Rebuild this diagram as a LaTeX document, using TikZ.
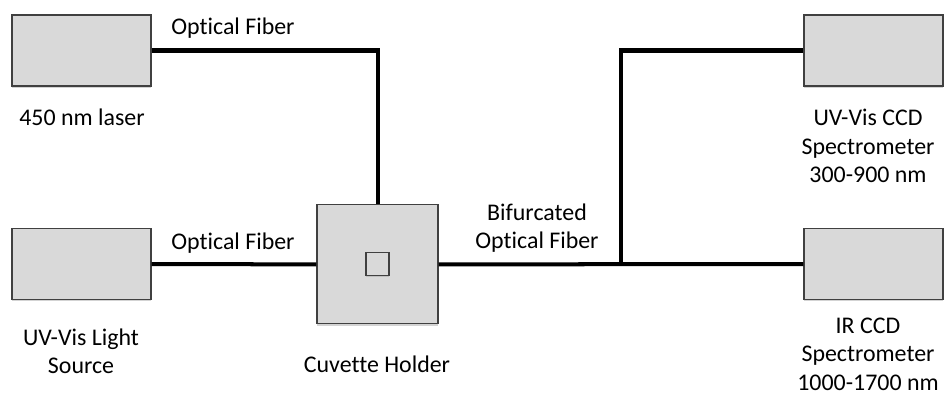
\documentclass[tikz,border=0pt]{standalone}
\usepackage{fontspec}
\setmainfont{Carlito}[Ligatures=NoCommon]
\usepackage{tikz}
\usetikzlibrary{positioning,shadows}
\definecolor{boxfill}{HTML}{D9D9D9}
\definecolor{boxline}{HTML}{404040}

\begin{document}
\begin{tikzpicture}[
    unit/.style={draw=boxline,fill=boxfill,line width=0.8pt,minimum width=3.475cm,minimum height=1.775cm,
      drop shadow={shadow xshift=0.3pt,shadow yshift=-1.2pt,opacity=0.35}},
    fiber/.style={line width=2.85pt},
    lbl/.style={font=\fontsize{17}{20.3}\selectfont,align=center,inner sep=0pt}]
  \useasboundingbox (0,0) rectangle (23.65,9.8);
  % sources
  \node[unit] (laser) at (2.0375,8.5375) {};
  \node[unit] (light) at (2.0375,3.2) {};
  % sample
  \node[unit,minimum width=3.025cm,minimum height=2.975cm] (cuv) at (9.4375,3.19) {};
  \node[draw=boxline,fill=boxfill,line width=0.8pt,minimum size=0.575cm,inner sep=0pt,
    drop shadow={shadow xshift=0.3pt,shadow yshift=-1pt,opacity=0.3}] (cell) at (cuv.center) {};
  % detectors
  \node[unit] (uv) at (21.8375,8.5375) {};
  \node[unit] (ir) at (21.8375,3.2) {};
  \coordinate (split) at (15.525,3.2);
  % fibers
  \draw[fiber] (laser.east) -| (cuv.north);
  \draw[fiber] (light.east) -- (cuv.west);
  \draw[fiber] (cuv.east) -- (ir.west);
  \draw[fiber] (split) |- (uv.west);
  % labels
  \node[lbl] (laserlbl) at (2.05,6.875) {450 nm laser};
  \node[lbl] (lightlbl) at (2.025,1.0125) {UV-Vis Light\\Source};
  \node[lbl] (cuvlbl) at (9.425,0.7) {Cuvette Holder};
  \node[lbl] (uvlbl) at (21.7,6.15) {UV-Vis CCD\\Spectrometer\\300-900 nm};
  \node[lbl] (irlbl) at (21.7,0.95) {IR CCD\\Spectrometer\\1000-1700 nm};
  \node[lbl] (fib1) at (5.825,9.1) {Optical Fiber};
  \node[lbl] (fib2) at (5.825,3.725) {Optical Fiber};
  \node[lbl] (fib3) at (13.425,4.1) {Bifurcated\\Optical Fiber};
\end{tikzpicture}
\end{document}
